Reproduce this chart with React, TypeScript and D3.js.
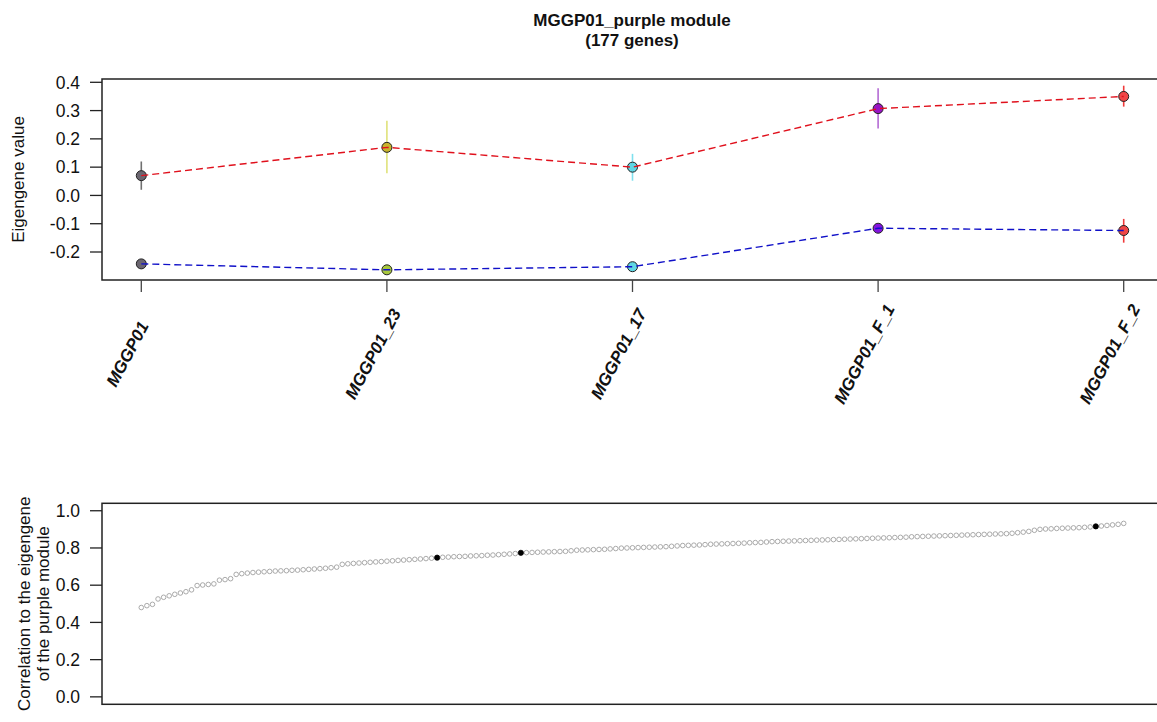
import React from "react";
import * as d3 from "d3";

const categories = ["MGGP01", "MGGP01_23", "MGGP01_17", "MGGP01_F_1", "MGGP01_F_2"];
const upValues = [0.07, 0.17, 0.1, 0.307, 0.35];
const upErrLow = [0.02, 0.078, 0.052, 0.237, 0.314];
const upErrHigh = [0.12, 0.264, 0.147, 0.379, 0.388];
const downValues = [-0.242, -0.263, -0.252, -0.116, -0.124];
const downErrLow = [-0.25, -0.27, -0.26, -0.124, -0.167];
const downErrHigh = [-0.234, -0.256, -0.244, -0.108, -0.083];
const upPointColors = ["#6b6670", "#c9b42c", "#5fd6e4", "#9a14c4", "#f04646"];
const downPointColors = ["#6b6670", "#a8c83c", "#5fd6e4", "#8414e0", "#f04646"];
const errColors = ["#707070", "#dfe27a", "#7fe0ee", "#b46ad4", "#f03a3a"];
const topTicks = [-0.2, -0.1, 0.0, 0.1, 0.2, 0.3, 0.4];

const corrValues = [
  0.48, 0.49, 0.497, 0.526, 0.535, 0.543, 0.551, 0.558, 0.565, 0.575,
  0.598, 0.601, 0.604, 0.607, 0.627, 0.63, 0.635, 0.658, 0.662, 0.665,
  0.668, 0.67, 0.672, 0.674, 0.676, 0.677, 0.678, 0.68, 0.681, 0.683,
  0.685, 0.687, 0.689, 0.691, 0.694, 0.697, 0.712, 0.715, 0.717, 0.719,
  0.721, 0.723, 0.725, 0.727, 0.729, 0.731, 0.733, 0.735, 0.737, 0.739,
  0.741, 0.743, 0.745, 0.748, 0.75, 0.751, 0.753, 0.754, 0.755, 0.757,
  0.758, 0.759, 0.761, 0.762, 0.764, 0.766, 0.768, 0.77, 0.774, 0.775,
  0.776, 0.777, 0.778, 0.779, 0.78, 0.781, 0.782, 0.785, 0.788, 0.789,
  0.79, 0.791, 0.792, 0.793, 0.795, 0.797, 0.799, 0.8, 0.801, 0.802,
  0.803, 0.804, 0.805, 0.806, 0.807, 0.809, 0.811, 0.813, 0.814, 0.815,
  0.816, 0.818, 0.82, 0.821, 0.822, 0.823, 0.824, 0.825, 0.826, 0.828,
  0.829, 0.83, 0.832, 0.834, 0.835, 0.836, 0.837, 0.838, 0.839, 0.84,
  0.841, 0.842, 0.843, 0.844, 0.845, 0.846, 0.847, 0.848, 0.849, 0.85,
  0.851, 0.852, 0.853, 0.854, 0.855, 0.856, 0.857, 0.858, 0.86, 0.861,
  0.862, 0.863, 0.864, 0.865, 0.866, 0.867, 0.868, 0.869, 0.87, 0.871,
  0.872, 0.873, 0.874, 0.875, 0.876, 0.877, 0.879, 0.882, 0.885, 0.889,
  0.895, 0.9, 0.902, 0.903, 0.905, 0.906, 0.907, 0.908, 0.909, 0.911,
  0.913, 0.916, 0.918, 0.921, 0.924, 0.927, 0.932,
];
const highlighted = [53, 68, 171];
const bottomTicks = [0.0, 0.2, 0.4, 0.6, 0.8, 1.0];

const FONT = "'Liberation Sans', Arial, Helvetica, sans-serif";

export default function App() {
  const W = 1157, H = 722;
  const left = 102, right = 1163;
  const top1 = 79, bot1 = 280;
  const top2 = 503.3, bot2 = 704.3;

  const x1 = d3.scaleLinear().domain([0.84, 5.16]).range([left, right]);
  const y1 = d3.scaleLinear().domain([-0.2, 0.4]).range([252, 82.3]);
  const n = corrValues.length;
  const pad = (n - 1) * 0.04;
  const x2 = d3.scaleLinear().domain([1 - pad, n + pad]).range([left, right]);
  const y2 = d3.scaleLinear().domain([-0.04, 1.04]).range([bot2, top2]);

  const lineGen = d3
    .line<number>()
    .x((_, i) => x1(i + 1))
    .y((d) => y1(d));

  return (
    <svg
      width={W}
      height={H}
      style={{ position: "absolute", left: 0, top: 0, background: "#fff" }}
      fontFamily={FONT}
    >
      <defs>
        <clipPath id="clipAll">
          <rect x={0} y={0} width={W} height={H} />
        </clipPath>
      </defs>
      {/* Title */}
      <text x={632} y={26} textAnchor="middle" fontSize={17} fontWeight="bold" fill="#111">
        MGGP01_purple module
      </text>
      <text x={632} y={46} textAnchor="middle" fontSize={17} fontWeight="bold" fill="#111">
        (177 genes)
      </text>

      {/* Top panel */}
      <g clipPath="url(#clipAll)">
        {categories.map((c, i) => (
          <line
            key={"eu" + i}
            x1={x1(i + 1)}
            x2={x1(i + 1)}
            y1={y1(upErrLow[i])}
            y2={y1(upErrHigh[i])}
            stroke={errColors[i]}
            strokeWidth={1.6}
          />
        ))}
        {categories.map((c, i) => (
          <line
            key={"ed" + i}
            x1={x1(i + 1)}
            x2={x1(i + 1)}
            y1={y1(downErrLow[i])}
            y2={y1(downErrHigh[i])}
            stroke={errColors[i]}
            strokeWidth={1.6}
          />
        ))}
        {upValues.map((v, i) => (
          <circle key={"pu" + i} cx={x1(i + 1)} cy={y1(v)} r={5} fill={upPointColors[i]} stroke="#222" strokeWidth={1} />
        ))}
        {downValues.map((v, i) => (
          <circle key={"pd" + i} cx={x1(i + 1)} cy={y1(v)} r={5} fill={downPointColors[i]} stroke="#222" strokeWidth={1} />
        ))}
        <path d={lineGen(upValues) || ""} fill="none" stroke="#e0101c" strokeWidth={1.4} strokeDasharray="7,4" />
        <path d={lineGen(downValues) || ""} fill="none" stroke="#1010c8" strokeWidth={1.4} strokeDasharray="7,4" />

        {/* frame */}
        <rect x={left} y={top1} width={right - left} height={bot1 - top1} fill="none" stroke="#222" strokeWidth={1.5} />
        {topTicks.map((t) => (
          <g key={"yt" + t}>
            <line x1={90} x2={left} y1={y1(t)} y2={y1(t)} stroke="#222" strokeWidth={1.3} />
            <text x={80} y={y1(t)} dy="0.36em" textAnchor="end" fontSize={17.5} fill="#111">
              {t.toFixed(1)}
            </text>
          </g>
        ))}
        {categories.map((c, i) => (
          <g key={"xt" + i}>
            <line x1={x1(i + 1)} x2={x1(i + 1)} y1={bot1} y2={292} stroke="#444" strokeWidth={1.3} />
            <text
              transform={`translate(${x1(i + 1) - 14},354) rotate(-62)`}
              textAnchor="middle"
              dy="0.35em"
              fontSize={17}
              fontWeight="bold"
              fontStyle="italic"
              fill="#111"
            >
              {c}
            </text>
          </g>
        ))}
        <text
          transform={`translate(24,${(top1 + bot1) / 2}) rotate(-90)`}
          textAnchor="middle"
          fontSize={17}
          fill="#111"
        >
          Eigengene value
        </text>

        {/* Bottom panel */}
        {corrValues.map((v, i) =>
          highlighted.includes(i) ? null : (
            <circle key={"c" + i} cx={x2(i + 1)} cy={y2(v)} r={2.3} fill="none" stroke="#a0a0a0" strokeWidth={0.9} />
          )
        )}
        {highlighted.map((i) => (
          <circle key={"h" + i} cx={x2(i + 1)} cy={y2(corrValues[i])} r={2.6} fill="#000" stroke="#000" strokeWidth={0.8} />
        ))}
        <rect x={left} y={top2} width={right - left} height={bot2 - top2} fill="none" stroke="#222" strokeWidth={1.5} />
        {bottomTicks.map((t) => (
          <g key={"bt" + t}>
            <line x1={90} x2={left} y1={y2(t)} y2={y2(t)} stroke="#222" strokeWidth={1.3} />
            <text x={80} y={y2(t)} dy="0.36em" textAnchor="end" fontSize={17.5} fill="#111">
              {t.toFixed(1)}
            </text>
          </g>
        ))}
        <text
          transform={`translate(30,${(top2 + bot2) / 2}) rotate(-90)`}
          textAnchor="middle"
          fontSize={17}
          fill="#111"
        >
          Correlation to the eigengene
        </text>
        <text
          transform={`translate(49,${(top2 + bot2) / 2}) rotate(-90)`}
          textAnchor="middle"
          fontSize={17}
          fill="#111"
        >
          of the purple module
        </text>
      </g>
    </svg>
  );
}
